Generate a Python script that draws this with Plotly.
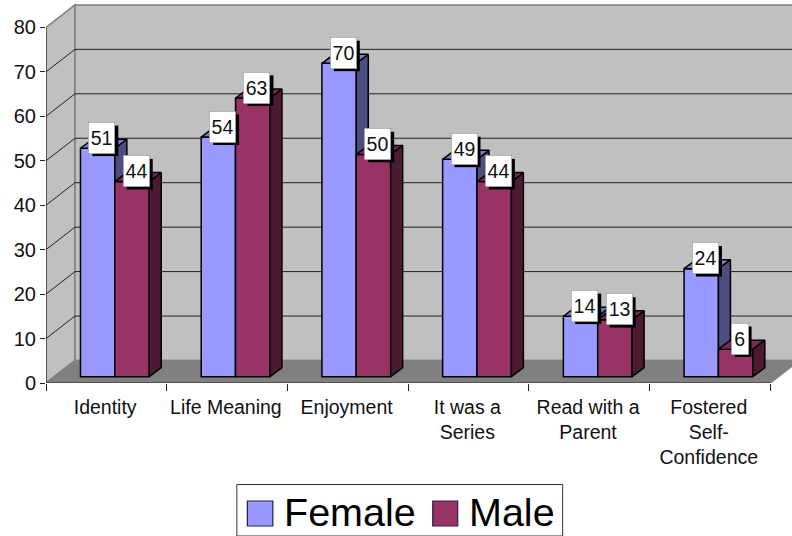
import plotly.graph_objects as go

categories = ["Identity", "Life Meaning", "Enjoyment", "It was a<br>Series", "Read with a<br>Parent", "Fostered<br>Self-<br>Confidence"]
female = [51.4, 53.9, 70.5, 48.9, 13.6, 24.3]
male = [43.9, 62.7, 50.0, 43.9, 12.8, 6.2]
y_ticks = [0, 10, 20, 30, 40, 50, 60, 70, 80]

W, H = 792, 536
AX_L, AX_B = 45.5, 383.0
PX_X, PX_Y = 120.8, 4.445
FONT = "Liberation Sans, Arial, sans-serif"
xmax = (W - AX_L) / PX_X
ymax = AX_B / PX_Y
ux = lambda p: p / PX_X
uy = lambda p: p / PX_Y
WALL_DX, WALL_DY = ux(29), uy(22.5)
BAR_DX, BAR_DY = ux(12), uy(9)
BAR_W = ux(34.4)
BAR_START = ux(34.5)
BASE = uy(6.3)
n = len(categories)

def poly(pts):
    return "M" + " L".join(f"{x:.4f},{y:.4f}" for x, y in pts) + " Z"

shapes = []
def wall(pts, fill, line="#808080", w=1.5):
    shapes.append(dict(type="path", path=poly(pts), fillcolor=fill, line=dict(color=line, width=w),
                       xref="x", yref="y", layer="below"))

wall([(0, 0), (WALL_DX, WALL_DY), (WALL_DX, 80 + WALL_DY), (0, 80)], "#c0c0c0")
wall([(WALL_DX, WALL_DY), (xmax + 1, WALL_DY), (xmax + 1, 80 + WALL_DY), (WALL_DX, 80 + WALL_DY)], "#c0c0c0")
wall([(0, 0), (n, 0), (n + WALL_DX, WALL_DY), (WALL_DX, WALL_DY)], "#808080")
for v in y_ticks[1:-1]:
    shapes.append(dict(type="path", path=f"M0,{v} L{WALL_DX},{v + WALL_DY} L{xmax + 1},{v + WALL_DY}",
                       line=dict(color="#222222", width=1), xref="x", yref="y", layer="below"))
shapes.append(dict(type="line", x0=0, x1=0, y0=0, y1=80, line=dict(color="#222222", width=1), xref="x", yref="y", layer="below"))
shapes.append(dict(type="line", x0=0, x1=n, y0=0, y1=0, line=dict(color="#222222", width=1), xref="x", yref="y", layer="below"))

fig = go.Figure()
LW = 1.5
series = [
    ("Female", female, "#9999ff", "#7a7acc", "#4d4d80", 0, "x", "y"),
    ("Male", male, "#993366", "#7a2952", "#4d1a33", 1, "x2", "y2"),
]
annotations = []
for name, vals, front, top, side, k, xa, ya in series:
    lefts = [i + BAR_START + k * BAR_W for i in range(n)]
    fig.add_trace(go.Bar(
        x=[l + BAR_W / 2 for l in lefts], y=vals, base=BASE, width=BAR_W, name=name,
        marker=dict(color=front, line=dict(color="#000000", width=LW)), xaxis=xa, yaxis=ya, hoverinfo="skip"))
    sx, sy, tx, ty = [], [], [], []
    for l, v in zip(lefts, vals):
        t = v + BASE
        r = l + BAR_W
        sx += [r, r + BAR_DX, r + BAR_DX, r, r, None]
        sy += [BASE, BASE + BAR_DY, t + BAR_DY, t, BASE, None]
        tx += [l, l + BAR_DX, r + BAR_DX, r, l, None]
        ty += [t, t + BAR_DY, t + BAR_DY, t, t, None]
    for X, Y, c in ((sx, sy, side), (tx, ty, top)):
        fig.add_trace(go.Scatter(x=X, y=Y, mode="lines", fill="toself", fillcolor=c,
                                 line=dict(color="#000000", width=LW), xaxis=xa, yaxis=ya,
                                 hoverinfo="skip", showlegend=False))
    for l, v in zip(lefts, vals):
        txt = f"{v:.0f}"
        bw = 26 if len(txt) > 1 else 16.5
        bh = 30.5
        cx = l + BAR_W / 2 + BAR_DX / 2 + ux(-1.8)
        cy = v + BASE + BAR_DY / 2 + uy(5.9)
        shapes.append(dict(type="rect", xref="x", yref="y", layer="above",
                           x0=cx - ux(bw / 2) + ux(3.5), x1=cx + ux(bw / 2) + ux(3.5),
                           y0=cy - uy(bh / 2) - uy(3), y1=cy + uy(bh / 2) - uy(3),
                           fillcolor="#000000", line=dict(width=0)))
        annotations.append(dict(x=cx, y=cy, xref="x", yref="y", text=txt, showarrow=False,
                                width=bw, height=bh, bgcolor="#ffffff", bordercolor="#808080",
                                borderwidth=0.5, borderpad=0, xanchor="center", yanchor="middle",
                                font=dict(family=FONT, size=19.5, color="#111111")))

px = lambda p: (p - AX_L) / (W - AX_L)
py = lambda p: (AX_B - p) / AX_B
shapes.append(dict(type="rect", xref="paper", yref="paper", x0=px(236.5), x1=px(562.5), y0=py(484.5), y1=py(536),
                   fillcolor="#ffffff", line=dict(color="#333333", width=1), layer="above"))
for x0, x1, c in ((247, 272.5, "#9999ff"), (432.5, 457.5, "#993366")):
    shapes.append(dict(type="rect", xref="paper", yref="paper", x0=px(x0), x1=px(x1), y0=py(501), y1=py(526),
                       fillcolor=c, line=dict(color="#222244", width=1.2), layer="above"))
for x0, s in ((281.5, "Female"), (466.5, "Male")):
    annotations.append(dict(x=px(x0), y=py(512), xref="paper", yref="paper", text=s, showarrow=False,
                            xanchor="left", yanchor="middle", font=dict(family=FONT, size=39.5, color="#000000")))

fig.update_layout(
    width=W, height=H, autosize=False, showlegend=False, barmode="overlay",
    paper_bgcolor="#ffffff", plot_bgcolor="#ffffff",
    margin=dict(l=AX_L, r=0, t=0, b=H - AX_B, pad=0),
    font=dict(family=FONT, size=19.5, color="#111111"),
    shapes=shapes, annotations=annotations,
    xaxis=dict(range=[0, xmax], tickmode="array", tickvals=[i + 0.49 for i in range(n)], ticktext=categories,
               ticks="", showgrid=False, zeroline=False, showline=False, fixedrange=True,
               ticklabelstandoff=10, tickfont=dict(size=19.5),
               minor=dict(tickmode="array", tickvals=list(range(n + 1)), ticks="outside", ticklen=7,
                          tickcolor="#222222", tickwidth=1, showgrid=False)),
    yaxis=dict(range=[0, ymax], tickmode="array", tickvals=y_ticks, ticks="outside", ticklen=5,
               tickcolor="#222222", tickwidth=1, showgrid=False, zeroline=False, showline=False,
               fixedrange=True, tickfont=dict(size=20), ticklabelstandoff=0),
    xaxis2=dict(range=[0, xmax], overlaying="x", visible=False, fixedrange=True),
    yaxis2=dict(range=[0, ymax], overlaying="y", visible=False, fixedrange=True),
)
fig.write_html("out.html", config={"displayModeBar": False},
               post_script="document.documentElement.style.margin='0';document.body.style.margin='0';document.body.style.overflow='hidden';")
